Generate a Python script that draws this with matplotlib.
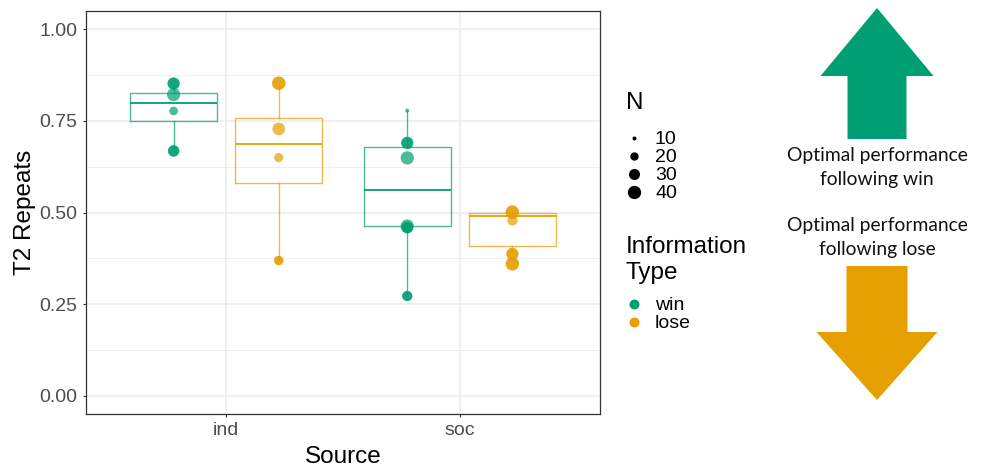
import numpy as np
import matplotlib
matplotlib.use("Agg")
import matplotlib.pyplot as plt
from matplotlib.patches import FancyArrow

plt.rcParams['font.family'] = ['Liberation Sans', 'DejaVu Sans']

# colori
GREEN = '#009E73'
ORANGE = '#E69F00'

# dati
sources = ['ind', 'soc']
info_types = ['win', 'lose']

# statistiche box: ind-win, ind-lose, soc-win, soc-lose
box_q1 = [0.749, 0.580, 0.462, 0.409]
box_med = [0.800, 0.688, 0.561, 0.490]
box_q3 = [0.827, 0.757, 0.678, 0.498]
whisk_lo = [0.668, 0.369, 0.272, 0.387]
whisk_hi = [0.852, 0.853, 0.778, 0.501]

# punti (valore T2 repeats e N), stesso ordine dei box
pts_ind_win = [0.852, 0.852, 0.822, 0.777, 0.668, 0.668]
n_ind_win = [34, 34, 40, 21, 31, 31]
pts_ind_lose = [0.853, 0.853, 0.728, 0.650, 0.369, 0.369]
n_ind_lose = [40, 40, 37, 23, 23, 23]
pts_soc_win = [0.778, 0.690, 0.690, 0.649, 0.463, 0.459, 0.459, 0.272, 0.272]
n_soc_win = [10, 34, 34, 40, 40, 32, 32, 26, 26]
pts_soc_lose = [0.501, 0.501, 0.478, 0.387, 0.387, 0.360, 0.360]
n_soc_lose = [40, 40, 26, 34, 34, 40, 40]

legend_n = [10, 20, 30, 40]

yticks = [0.0, 0.25, 0.50, 0.75, 1.00]


def size_from_n(n):
    """Area proporzionale a N (come scale_size di ggplot), in pt^2"""
    n = np.asarray(n, dtype=float)
    d_px = np.sqrt(16 + (n - 10) * (177 - 16) / 30.0)
    return (d_px * 0.72) ** 2


W, H = 981, 467
fig = plt.figure(figsize=(W / 100, H / 100), dpi=100)
ax = fig.add_axes([86 / W, 1 - 414 / H, (600 - 86) / W, (414 - 11) / H])

dodge = 0.225
box_w = 0.374
colors = [GREEN, ORANGE]

points = [
    (pts_ind_win, n_ind_win),
    (pts_ind_lose, n_ind_lose),
    (pts_soc_win, n_soc_win),
    (pts_soc_lose, n_soc_lose),
]

k = 0
for si, src in enumerate(sources):
    for ti, typ in enumerate(info_types):
        pos = si + 1 + (-dodge if ti == 0 else dodge)
        col = colors[ti]
        stats = [dict(q1=box_q1[k], med=box_med[k], q3=box_q3[k],
                      whislo=whisk_lo[k], whishi=whisk_hi[k])]
        ax.bxp(stats, positions=[pos], widths=box_w, showfliers=False,
               showcaps=False, manage_ticks=False,
               boxprops=dict(color=col, alpha=0.7, linewidth=1.0),
               whiskerprops=dict(color=col, alpha=0.7, linewidth=1.0),
               medianprops=dict(color=col, linewidth=1.3), zorder=2)
        vals, ns = points[k]
        ax.scatter(np.full(len(vals), pos), vals, s=size_from_n(ns),
                   color=col, alpha=0.7, linewidths=0, zorder=3)
        k += 1

# assi e griglia stile theme_bw
ax.set_xlim(0.4, 2.6)
ax.set_ylim(-0.05, 1.05)
ax.set_xticks([1, 2])
ax.set_xticklabels(sources)
ax.set_yticks(yticks)
ax.set_yticklabels([f'{t:.2f}' for t in yticks])
ax.set_yticks([0.125, 0.375, 0.625, 0.875], minor=True)
ax.grid(True, which='major', color='#EBEBEB', linewidth=1.1, zorder=0)
ax.grid(True, which='minor', axis='y', color='#EBEBEB', linewidth=0.6, zorder=0)
ax.set_axisbelow(True)
ax.tick_params(which='major', length=2.5, width=0.8, color='#333333',
               labelcolor='#4D4D4D', labelsize=14, pad=3.5)
ax.tick_params(which='minor', length=0)
for sp in ax.spines.values():
    sp.set_color('#333333')
    sp.set_linewidth(0.9)

ax.set_xlabel('Source', fontsize=17.5, labelpad=5)
ax.set_ylabel('T2 Repeats', fontsize=17.5, labelpad=3)

# pannello in pixel per legende, frecce e testi
rax = fig.add_axes([0, 0, 1, 1])
rax.set_xlim(0, W)
rax.set_ylim(H, 0)
rax.axis('off')

# legenda N
rax.text(626, 103, 'N', fontsize=17.5, ha='left', va='center')
for i, v in enumerate(legend_n):
    yy = 138 + 18 * i
    rax.scatter([634], [yy], s=size_from_n([v]), color='black', linewidths=0)
    rax.text(655, yy + 1, str(v), fontsize=14, ha='left', va='center')

# legenda Information Type
rax.text(626, 247, 'Information', fontsize=17.5, ha='left', va='center')
rax.text(626, 273, 'Type', fontsize=17.5, ha='left', va='center')
for i, (lab, c) in enumerate(zip(info_types, colors)):
    yy = 304 + 18 * i
    rax.scatter([634], [yy], s=(10 * 0.72) ** 2, color=c, linewidths=0)
    rax.text(655, yy + 1, lab, fontsize=14, ha='left', va='center')

# frecce
rax.add_patch(FancyArrow(877, 139, 0, -131, width=59, head_width=113,
                         head_length=68, length_includes_head=True,
                         color=GREEN, linewidth=0))
rax.add_patch(FancyArrow(877, 266, 0, 134, width=61, head_width=121,
                         head_length=68, length_includes_head=True,
                         color=ORANGE, linewidth=0))
txt = dict(ha='center', va='center', fontsize=13.9, family=['Lato', 'DejaVu Sans'],
           color='#111111')
rax.text(877, 155, 'Optimal performance', **txt)
rax.text(877, 179, 'following win', **txt)
rax.text(877, 226, 'Optimal performance', **txt)
rax.text(877, 249, 'following lose', **txt)

fig.savefig('out.png', dpi=100)
